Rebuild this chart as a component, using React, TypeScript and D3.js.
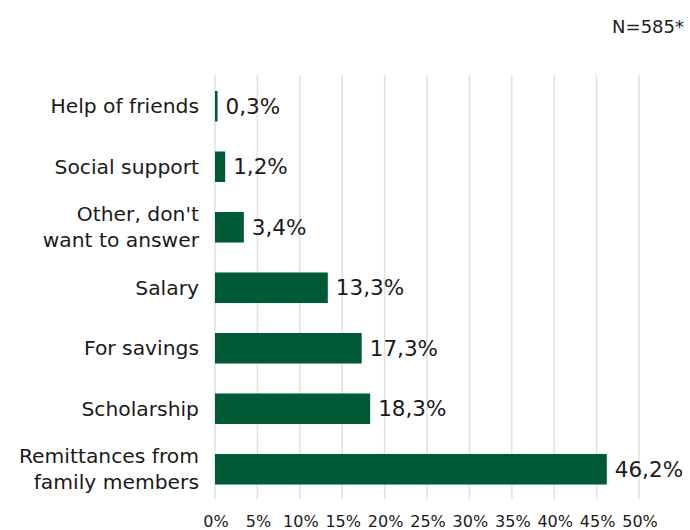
import React from "react";
import * as d3 from "d3";

const categories: string[][] = [
  ["Help of friends"],
  ["Social support"],
  ["Other, don't", "want to answer"],
  ["Salary"],
  ["For savings"],
  ["Scholarship"],
  ["Remittances from", "family members"],
];
const values: number[] = [0.3, 1.2, 3.4, 13.3, 17.3, 18.3, 46.2];
const ticks: number[] = [0, 5, 10, 15, 20, 25, 30, 35, 40, 45, 50];
const note = "N=585*";

const W = 690;
const H = 530;
const FONT = "'DejaVu Sans', sans-serif";

export default function App() {
  const x = d3.scaleLinear().domain([0, 50]).range([215, 639]);
  const idx = categories.map((_, i) => String(i));
  const y = d3.scaleBand().domain(idx).range([76, 499.5]).paddingInner(0.495).paddingOuter(0.2475);
  const fmt = (v: number) => v.toFixed(1).replace(".", ",") + "%";
  return (
    <svg width={W} height={H} style={{ position: "absolute", left: 0, top: 0, background: "#fff" }}>
      <text x={684} y={33} textAnchor="end" fontFamily={FONT} fontSize={18} fill="#222">{note}</text>
      {ticks.map((t) => (
        <line key={"g" + t} x1={x(t)} x2={x(t)} y1={75} y2={499} stroke="#e0e0e0" strokeWidth={1.5} />
      ))}
      {values.map((v, i) => {
        const yy = y(String(i))!;
        const bw = y.bandwidth();
        const lines = categories[i];
        const cy = yy + bw / 2;
        const lh = 26;
        return (
          <g key={i}>
            <rect x={x(0)} y={yy} width={x(v) - x(0)} height={bw} fill="#005a36" />
            <text x={x(v) + 8} y={cy + 7.5} fontFamily={FONT} fontSize={21.5} fill="#1a1a1a">{fmt(v)}</text>
            {lines.map((l, j) => (
              <text key={j} x={199} y={cy + 7 + (j - (lines.length - 1) / 2) * lh} textAnchor="end" fontFamily={FONT} fontSize={20.3} fill="#1a1a1a">{l}</text>
            ))}
          </g>
        );
      })}
      {ticks.map((t) => (
        <text key={"t" + t} x={x(t) + 1} y={527} textAnchor="middle" fontFamily={FONT} fontSize={16} fill="#1a1a1a">{t + "%"}</text>
      ))}
    </svg>
  );
}
